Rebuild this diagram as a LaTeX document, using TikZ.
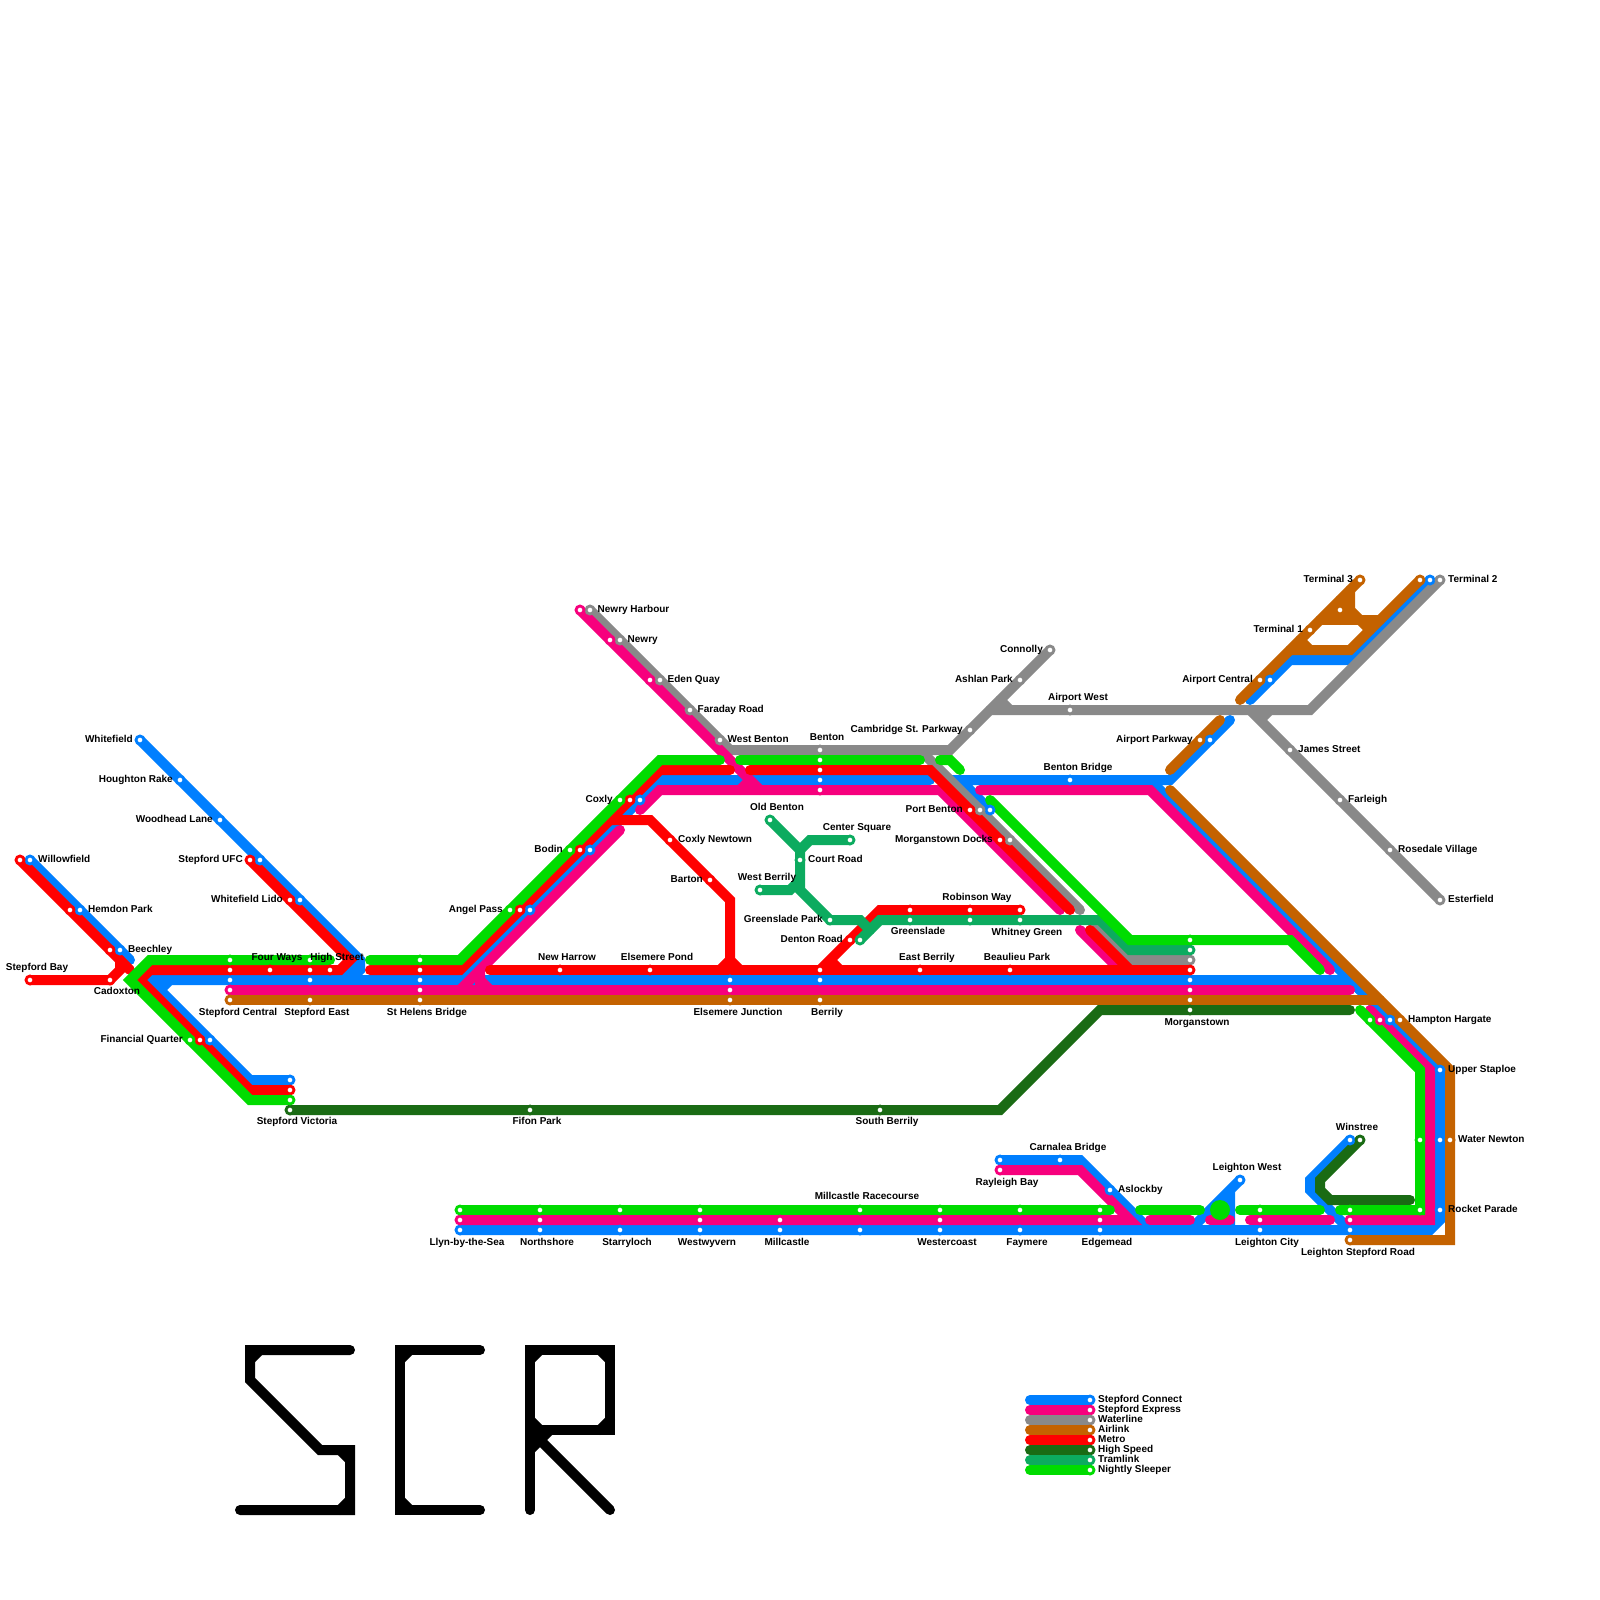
\documentclass[tikz,border=0pt]{standalone}
\usepackage{fontspec}
\setmainfont{Liberation Sans}
\usepackage{xcolor}
\definecolor{connect}{RGB}{0,127,255}
\definecolor{express}{RGB}{247,0,125}
\definecolor{waterline}{RGB}{137,137,137}
\definecolor{airlink}{RGB}{196,98,0}
\definecolor{metro}{RGB}{255,0,0}
\definecolor{highspeed}{RGB}{26,107,20}
\definecolor{tramlink}{RGB}{12,171,95}
\definecolor{sleeper}{RGB}{0,220,0}
\pgfdeclarelayer{lines}
\pgfsetlayers{lines,main}

\begin{document}
\begin{tikzpicture}[
  x=1pt, y=-1pt,
  route/.style={draw=#1, line width=10pt, line cap=round},
  logo/.style={draw=black, line width=10pt, line cap=round},
  stop/.style={circle, draw=#1, fill=white, line width=2.8pt, inner sep=0pt, outer sep=0pt, minimum size=8pt},
  lbl/.style={font=\fontsize{10}{12}\selectfont\bfseries, inner sep=0pt}
]
\useasboundingbox (0,0) rectangle (1600,1600);

% stops, one list for each line
\foreach \n/\x/\y in {Whitefield/140/740, Houghton/180/780, Woodhead/220/820, Ufc/260/860, Lido/300/900, Willowfield/30/860, Hemdon/80/910, Beechley/120/950, Central/230/980, East/310/980, Helens/420/980, Financial/210/1040, Victoria/290/1080, Angel/530/910, Bodin/590/850, Coxly/640/800, Junction/730/980, Berrily/820/980, Benton/820/780, Port/990/810, Bridge/1070/780, Morgans/1190/980, Parkway/1210/740, Airport/1270/680, Two/1430/580, Hampton/1390/1020, Staploe/1440/1070, Newton/1440/1140, Rocket/1440/1210, Road/1350/1230, Winstree/1350/1140, West/1240/1180, City/1260/1230, Edgemead/1100/1230, Faymere/1020/1230, Westercoast/940/1230, Racecourse/860/1230, Millcastle/780/1230, Westwyvern/700/1230, Starryloch/620/1230, Northshore/540/1230, Llyn/460/1230, Aslockby/1110/1190, Carnalea/1060/1160, Rayleigh/1000/1160}
  \node[stop=connect] (c\n) at (\x,\y) {};
\foreach \n/\x/\y in {Harbour/590/610, Newry/620/640, Eden/660/680, Faraday/690/710, West/720/740, Benton/820/750, Cambridge/970/730, Ashlan/1020/680, Connolly/1050/650, Airport/1070/710, Two/1440/580, James/1290/750, Farleigh/1340/800, Rosedale/1390/850, Esterfield/1440/900, Port/980/810, Docks/1010/840, Morgans/1190/960}
  \node[stop=waterline] (w\n) at (\x,\y) {};
\foreach \n/\x/\y in {Harbour/580/610, Newry/610/640, Eden/650/680, Benton/820/790, Central/230/990, Helens/420/990, Junction/730/990, Morgans/1190/990, Hampton/1380/1020, Road/1350/1220, City/1260/1220, Edgemead/1100/1220, Westercoast/940/1220, Millcastle/780/1220, Westwyvern/700/1220, Northshore/540/1220, Llyn/460/1220, Rayleigh/1000/1170}
  \node[stop=express] (p\n) at (\x,\y) {};
\foreach \n/\x/\y in {Central/230/1000, East/310/1000, Helens/420/1000, Junction/730/1000, Berrily/820/1000, Morgans/1190/1000, Hampton/1400/1020, Newton/1450/1140, Road/1350/1240, Parkway/1200/740, Airport/1260/680, One/1310/630, Mid/1340/610, Three/1360/580, Two/1420/580}
  \node[stop=airlink] (a\n) at (\x,\y) {};
\foreach \n/\x/\y in {Willowfield/20/860, Hemdon/70/910, Beechley/110/950, Cadoxton/110/980, Bay/30/980, Ufc/250/860, Lido/290/900, Central/230/970, Four/270/970, East/310/970, High/330/970, Helens/420/970, Financial/200/1040, Victoria/290/1090, Angel/520/910, Bodin/580/850, Coxly/630/800, Newtown/670/840, Barton/710/880, Harrow/560/970, Pond/650/970, Berrily/820/970, Denton/850/940, Greenslade/910/910, Robinson/970/910, Whitney/1020/910, Benton/820/770, Port/970/810, Docks/1000/840, Eastb/920/970, Beaulieu/1010/970, Morgans/1190/970}
  \node[stop=metro] (r\n) at (\x,\y) {};
\foreach \n/\x/\y in {Victoria/290/1110, Fifon/530/1110, South/880/1110, Morgans/1190/1010, Winstree/1360/1140}
  \node[stop=highspeed] (h\n) at (\x,\y) {};
\foreach \n/\x/\y in {Old/770/820, Square/850/840, Court/800/860, West/760/890, Park/830/920, Denton/860/940, Greenslade/910/920, Robinson/970/920, Whitney/1020/920, Morgans/1190/950}
  \node[stop=tramlink] (t\n) at (\x,\y) {};
\foreach \n/\x/\y in {Central/230/960, East/310/960, Helens/420/960, Financial/190/1040, Victoria/290/1100, Angel/510/910, Bodin/570/850, Coxly/620/800, Benton/820/760, Morgans/1190/940, Hampton/1370/1020, Newton/1420/1140, Rocket/1420/1210, Road/1350/1210, City/1260/1210, Edgemead/1100/1210, Faymere/1020/1210, Westercoast/940/1210, Racecourse/860/1210, Westwyvern/700/1210, Starryloch/620/1210, Northshore/540/1210, Llyn/460/1210}
  \node[stop=sleeper] (n\n) at (\x,\y) {};

% free line ends
\foreach \n/\x/\y in {cA/130/960, cB/930/780, cC/960/780, cD/1230/720, cE/1150/780, cF/1190/1230, cG/1230/1190, cH/1230/1230, cI/1250/700, cJ/1360/990, cK/1150/1230, wA/990/710, wB/1250/710, wC/920/750, wD/1080/910, wE/1090/920, pA/640/810, pB/1060/910, pC/620/830, pD/1350/990, pE/980/790, pF/1330/970, pG/1080/930, pH/1120/970, pI/1370/1010, pJ/1150/1220, pK/1190/1220, pL/1210/1220, pM/1230/1220, pN/1250/1220, pO/1330/1220, aA/1380/1000, aB/1170/790, aC/1170/770, aD/1220/720, aE/1240/700, aF/1290/650, aG/1320/620, aH/1380/620, aI/1350/590, rA/130/970, rB/370/970, rC/730/770, rD/750/770, rE/1070/910, rF/1090/930, rG/1130/970, rH/490/970, rI/610/820, rJ/730/970, hA/1350/1010, hB/1410/1200, tA/870/930, nA/330/960, nB/370/960, nC/720/760, nD/740/760, nE/920/760, nF/940/760, nG/960/770, nH/990/800, nI/1320/970, nJ/1360/1010, nK/1340/1210, nL/1110/1210, nM/1140/1210, nN/1200/1210, nO/1240/1210, nP/1320/1210}
  \coordinate (\n) at (\x,\y);

\begin{pgfonlayer}{lines}
% Stepford Connect
\draw[route=connect] (cWillowfield.center) -- (cA);
\draw[route=connect] (cWhitefield.center) -- (360,960) -- (360,970) -- (350,980) (360,960) -- (340,980);
\draw[route=connect] (cVictoria.center) -- (250,1080) -- (150,980) -- (460,980) -- (660,780) -- (cB) (170,980) -- (160,990);
\draw[route=connect] (460,980) -- (1350,980) -- (cJ);
\draw[route=connect] (cPort.center) -- (cC) -- (1170,780) -- (cD);
\draw[route=connect] (cE) -- (1440,1070) -- (1440,1220) -- (1430,1230) -- (cLlyn.center);
\draw[route=connect] (cRayleigh.center) -- (1080,1160) -- (cK);
\draw[route=connect] (cWest.center) -- (cF) (cG) -- (cH);
\draw[route=connect] (cWinstree.center) -- (1310,1180) -- (1310,1190) -- (cRoad.center);
\draw[route=connect] (cI) -- (1290,660) -- (1350,660) -- (cTwo.center);
% Waterline
\draw[route=waterline] (wHarbour.center) -- (730,750) -- (950,750) -- (wConnolly.center);
\draw[route=waterline] (wA) -- (1310,710) -- (wTwo.center) (1000,700) -- (1010,710);
\draw[route=waterline] (wB) -- (wEsterfield.center) (1260,720) -- (1270,710);
\draw[route=waterline] (wC) -- (wD);
\draw[route=waterline] (wE) -- (1130,960) -- (wMorgans.center);
% Stepford Express
\draw[route=express] (pHarbour.center) -- (760,790) (740,790) -- (750,780);
\draw[route=express] (pA) -- (660,790) -- (940,790) -- (pB);
\draw[route=express] (pC) -- (460,990) (480,970) -- (480,990) (480,980) -- (490,990);
\draw[route=express] (pCentral.center) -- (pD);
\draw[route=express] (pE) -- (1150,790) -- (pF);
\draw[route=express] (pG) -- (pH);
\draw[route=express] (pI) -- (1430,1070) -- (1430,1220) -- (pRoad.center);
\draw[route=express] (pRayleigh.center) -- (1080,1170) -- (1130,1220) -- (pLlyn.center);
\draw[route=express] (pJ) -- (pK) (pL) -- (pM) (pN) -- (pO);
% Airlink
\draw[route=airlink] (aCentral.center) -- (aA);
\draw[route=airlink] (aB) -- (1450,1070) -- (1450,1240) -- (aRoad.center);
\draw[route=airlink] (aC) -- (aD);
\draw[route=airlink] (aE) -- (aThree.center);
\draw[route=airlink] (aTwo.center) -- (1350,650) -- (aF);
\draw[route=airlink] (aG) -- (aH) (1340,600) -- (1340,620);
\draw[route=airlink] (aI) -- (1350,610) -- (1360,620);
\draw[route=airlink] (1300,640) -- (1310,650) (1360,620) -- (1370,630);
\fill[airlink] (1328,618) -- (1347,599) -- (1353,599) -- (1353,618) -- cycle;
% Metro
\draw[route=metro] (rWillowfield.center) -- (rA);
\draw[route=metro] (rBay.center) -- (110,980) -- (120,970) -- (120,960);
\draw[route=metro] (rUfc.center) -- (350,960) -- (340,970) -- (150,970) -- (140,980) -- (250,1090) -- (rVictoria.center);
\draw[route=metro] (rB) -- (460,970) -- (660,770) -- (rC);
\draw[route=metro] (rD) -- (930,770) -- (rE);
\draw[route=metro] (rF) -- (rG);
\draw[route=metro] (rH) -- (rMorgans.center);
\draw[route=metro] (rI) -- (650,820) -- (730,900) -- (rJ) (720,970) -- (730,960) -- (740,970);
\draw[route=metro] (rBerrily.center) -- (880,910) -- (rWhitney.center) (830,960) -- (840,970);
% High Speed
\draw[route=highspeed] (hVictoria.center) -- (1000,1110) -- (1100,1010) -- (hA);
\draw[route=highspeed] (hWinstree.center) -- (1320,1180) -- (1320,1190) -- (1330,1200) -- (hB);
% Tramlink
\draw[route=tramlink] (tOld.center) -- (800,850) -- (800,890) -- (830,920) -- (860,920) -- (tA);
\draw[route=tramlink] (tSquare.center) -- (810,840) -- (800,850);
\draw[route=tramlink] (tWest.center) -- (790,890) -- (800,880);
\draw[route=tramlink] (tDenton.center) -- (880,920) -- (1100,920) -- (1130,950) -- (tMorgans.center);
% Nightly Sleeper
\draw[route=sleeper] (nVictoria.center) -- (250,1100) -- (130,980) -- (150,960) -- (nA);
\draw[route=sleeper] (nB) -- (460,960) -- (660,760) -- (nC);
\draw[route=sleeper] (nD) -- (nE);
\draw[route=sleeper] (nF) -- (950,760) -- (nG);
\draw[route=sleeper] (nH) -- (1130,940) -- (1290,940) -- (nI);
\draw[route=sleeper] (nJ) -- (1420,1070) -- (1420,1210) -- (nK);
\draw[route=sleeper] (nLlyn.center) -- (nL);
\draw[route=sleeper] (nM) -- (nN);
\draw[route=sleeper] (nO) -- (nP);
\end{pgfonlayer}

\node[circle, fill=sleeper, inner sep=0pt, minimum size=20pt] (blob) at (1220,1210) {};

% labels, left of the stop
\foreach \n/\x/\y/\t in {Whitefield/133/740/Whitefield, Houghton/173/780/Houghton Rake, Woodhead/213/820/Woodhead Lane, Ufc/243/860/Stepford UFC, Lido/283/900/Whitefield Lido, Financial/183/1040/Financial Quarter, Angel/503/910/Angel Pass, Bodin/563/850/Bodin, Coxly/613/800/Coxly, Barton/703/880/Barton, Park/823/920/Greenslade Park, Denton/843/940/Denton Road, Cambridge/963/730/Cambridge St. Parkway, Port/963/810/Port Benton, Docks/993/840/Morganstown Docks, Ashlan/1013/680/Ashlan Park, Connolly/1043/650/Connolly, Airport/1253/680/Airport Central, Parkway/1193/740/Airport Parkway, Three/1353/580/Terminal 3, One/1303/630/Terminal 1}
  \node[lbl, anchor=mid east] (l\n) at (\x,\y) {\t};
% labels, right of the stop
\foreach \n/\x/\y/\t in {Willowfield/38/860/Willowfield, Hemdon/88/910/Hemdon Park, Beechley/128/950/Beechley, Harbour/597.5/610/Newry Harbour, Newry/627.5/640/Newry, Eden/667.5/680/Eden Quay, Faraday/697.5/710/Faraday Road, Westb/727.5/740/West Benton, Newtown/678/840/Coxly Newtown, Court/808/860/Court Road, Aslockby/1118/1190/Aslockby, Hampton/1408/1020/Hampton Hargate, Staploe/1448/1070/Upper Staploe, Newton/1458/1140/Water Newton, Rocket/1448/1210/Rocket Parade, Two/1448/580/Terminal 2, James/1298/750/James Street, Farleigh/1348/800/Farleigh, Rosedale/1398/850/Rosedale Village, Esterfield/1448/900/Esterfield}
  \node[lbl, anchor=mid west] (l\n) at (\x,\y) {\t};
% labels, above or below the stop
\foreach \n/\x/\y/\t in {Bay/37/968/Stepford Bay, Four/277/958/Four Ways, High/337/958/High Street, Cadoxton/117/992/Cadoxton, Central/238/1013/Stepford Central, East/317/1013/Stepford East, Helens/427/1013/St Helens Bridge, Victoria/297/1122/Stepford Victoria, Fifon/537/1122/Fifon Park, South/887/1122/South Berrily, Llyn/467/1243/Llyn-by-the-Sea, Northshore/547/1243/Northshore, Starryloch/627/1243/Starryloch, Westwyvern/707/1243/Westwyvern, Millcastle/787/1243/Millcastle, Westercoast/947/1243/Westercoast, Faymere/1027/1243/Faymere, Edgemead/1107/1243/Edgemead, City/1267/1243/Leighton City, Road/1358/1253/Leighton Stepford Road, West/1247/1168/Leighton West, Winstree/1357/1128/Winstree, Carnalea/1068/1148/Carnalea Bridge, Rayleigh/1007/1183/Rayleigh Bay, Racecourse/867/1197/Millcastle Racecourse, Morgans/1197/1023/Morganstown, Benton/827/738/Benton, Harrow/567/958/New Harrow, Pond/657/958/Elsemere Pond, Junction/738/1013/Elsemere Junction, Berrily/827/1013/Berrily, Old/777/808/Old Benton, Square/857/828/Center Square, Westberrily/767/878/West Berrily, Greenslade/918/932/Greenslade, Eastb/927/958/East Berrily, Beaulieu/1017/958/Beaulieu Park, Whitney/1027/933/Whitney Green, Robinson/977/898/Robinson Way, Bridge/1078/768/Benton Bridge, Airportw/1078/698/Airport West}
  \node[lbl, anchor=mid] (l\n) at (\x,\y) {\t};

% key
\foreach \c/\t [count=\i] in {connect/Stepford Connect, express/Stepford Express, waterline/Waterline, airlink/Airlink, metro/Metro, highspeed/High Speed, tramlink/Tramlink, sleeper/Nightly Sleeper} {
  \node[stop=\c] (key\i) at (1090,{1390+10*\i}) {};
  \coordinate (keyend\i) at (1030,{1390+10*\i});
  \node[lbl, anchor=mid west] (keytext\i) at (1098,{1390+10*\i}) {\t};
  \begin{pgfonlayer}{lines}
    \draw[route=\c] (keyend\i) -- (key\i.center);
  \end{pgfonlayer}
}

% S C R
\draw[logo] (350,1350) -- (250,1350) -- (250,1380) -- (320,1450) -- (350,1450) -- (350,1510) -- (240,1510);
\draw[logo] (260,1350) -- (250,1360) (340,1450) -- (350,1460) (350,1500) -- (340,1510);
\draw[logo] (480,1350) -- (400,1350) -- (400,1510) -- (480,1510);
\draw[logo] (410,1350) -- (400,1360) (400,1500) -- (410,1510);
\draw[logo] (530,1510) -- (530,1350) -- (610,1350) -- (610,1430) -- (530,1430);
\draw[logo] (530,1430) -- (610,1510);
\draw[logo] (530,1360) -- (540,1350) (600,1350) -- (610,1360) (610,1420) -- (600,1430) (530,1420) -- (540,1430) (530,1450) -- (540,1440) -- (550,1430);
\end{tikzpicture}
\end{document}
